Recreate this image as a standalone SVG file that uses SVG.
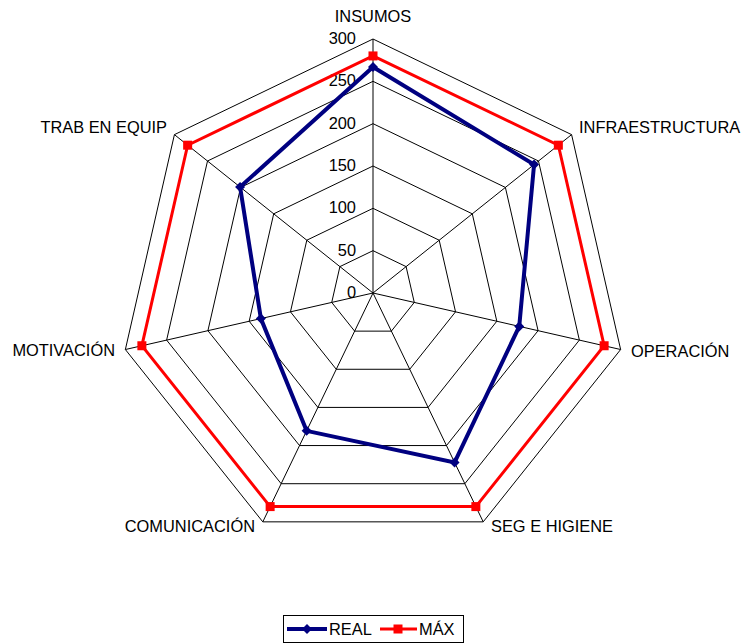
<svg xmlns="http://www.w3.org/2000/svg" width="747" height="643" viewBox="0 0 747 643">
<style>
text{font-family:"Liberation Sans",Arial,sans-serif;font-size:16.4px;fill:#000}
.grid{fill:none;stroke:#000;stroke-width:1}
.real{fill:none;stroke:#000080;stroke-width:4;stroke-linejoin:miter}
.max{fill:none;stroke:#ff0000;stroke-width:3;stroke-linejoin:miter}
.end{text-anchor:end}
.mid{text-anchor:middle}
</style>
<defs>
<path id="dia" d="M0,-5 L5,0 L0,5 L-5,0 Z" fill="#000080"/>
<rect id="sq" x="-4.5" y="-4.5" width="9" height="9" fill="#ff0000"/>
</defs>
<rect width="747" height="643" fill="#fff"/>
<g id="grid">
<polygon class="grid" points="373,250.67 406.10,266.61 414.27,302.42 391.37,331.14 354.63,331.14 331.73,302.42 339.90,266.61"/>
<polygon class="grid" points="373,208.33 439.20,240.21 455.54,311.84 409.74,369.28 336.26,369.28 290.46,311.84 306.80,240.21"/>
<polygon class="grid" points="373,166 472.29,213.82 496.82,321.26 428.10,407.42 317.90,407.42 249.18,321.26 273.71,213.82"/>
<polygon class="grid" points="373,123.67 505.39,187.42 538.09,330.68 446.47,445.56 299.53,445.56 207.91,330.68 240.61,187.42"/>
<polygon class="grid" points="373,81.33 538.49,161.03 579.36,340.10 464.84,483.71 281.16,483.71 166.64,340.10 207.51,161.03"/>
<polygon class="grid" points="373,39 571.59,134.63 620.63,349.52 483.21,521.85 262.79,521.85 125.37,349.52 174.41,134.63"/>
<path class="grid" d="M373,293 L373,39 M373,293 L571.59,134.63 M373,293 L620.63,349.52 M373,293 L483.21,521.85 M373,293 L262.79,521.85 M373,293 L125.37,349.52 M373,293 L174.41,134.63"/>
</g>
<g id="scale">
<text class="end" x="356" y="44">300</text>
<text class="end" x="356" y="86.3">250</text>
<text class="end" x="356" y="128.7">200</text>
<text class="end" x="356" y="171">150</text>
<text class="end" x="356" y="213.3">100</text>
<text class="end" x="356" y="255.7">50</text>
<text class="end" x="356" y="298">0</text>
</g>
<g id="labels">
<text class="mid" x="373" y="22">INSUMOS</text>
<text x="579" y="133">INFRAESTRUCTURA</text>
<text x="631" y="357">OPERACIÓN</text>
<text x="491" y="532">SEG E HIGIENE</text>
<text class="end" x="255" y="532">COMUNICACIÓN</text>
<text class="end" x="115" y="356">MOTIVACIÓN</text>
<text class="end" x="167" y="133">TRAB EN EQUIP</text>
</g>
<g id="connectors">
<polygon id="series-max" class="max" points="373,55.93 558.35,145.19 604.13,345.75 475.86,506.59 270.14,506.59 141.87,345.75 187.65,145.19"/>
<polygon id="series-real" class="real" points="373,67 534.06,164.56 519.24,326.38 454.57,462.38 306.62,430.85 260.89,318.59 240.09,187"/>
</g>
<g id="markers-max">
<use href="#sq" x="373" y="55.93"/>
<use href="#sq" x="558.35" y="145.19"/>
<use href="#sq" x="604.13" y="345.75"/>
<use href="#sq" x="475.86" y="506.59"/>
<use href="#sq" x="270.14" y="506.59"/>
<use href="#sq" x="141.87" y="345.75"/>
<use href="#sq" x="187.65" y="145.19"/>
</g>
<g id="markers-real">
<use href="#dia" x="373" y="67"/>
<use href="#dia" x="534.06" y="164.56"/>
<use href="#dia" x="519.24" y="326.38"/>
<use href="#dia" x="454.57" y="462.38"/>
<use href="#dia" x="306.62" y="430.85"/>
<use href="#dia" x="260.89" y="318.59"/>
<use href="#dia" x="240.09" y="187"/>
</g>
<g id="legend">
<rect x="283.5" y="615.5" width="180" height="27" fill="#fff" stroke="#000" stroke-width="1"/>
<line x1="287" y1="629" x2="327" y2="629" stroke="#000080" stroke-width="4"/>
<use href="#dia" x="307" y="629"/>
<text x="329" y="635">REAL</text>
<line x1="380" y1="629" x2="417" y2="629" stroke="#ff0000" stroke-width="3"/>
<use href="#sq" x="398" y="629"/>
<text x="419" y="635">MÁX</text>
</g>
</svg>
